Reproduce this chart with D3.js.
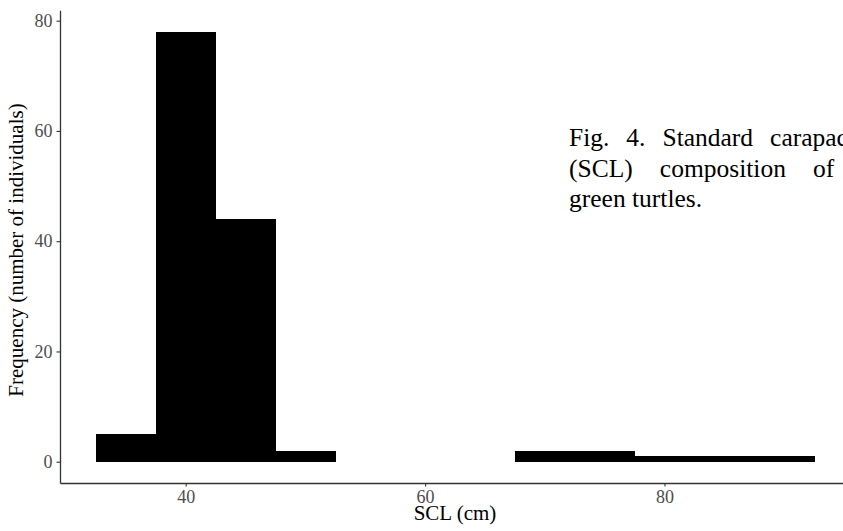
<!DOCTYPE html>
<html>
<head>
    <meta charset="utf-8">
    <title>SCL histogram</title>
    <script src="https://cdn.jsdelivr.net/npm/d3@7"></script>
    <style>
        body { margin: 0; background: #fff; }
        svg { display: block; }
    </style>
</head>
<body>
    <svg width="843" height="531"></svg>

    <script>
        // histogram bins (centre of each 5 cm bin) and counts
        var binCenters = [35, 40, 45, 50, 55, 60, 65, 70, 75, 80, 85, 90];
        var counts = [5, 78, 44, 2, 0, 0, 0, 2, 2, 1, 1, 1];
        var binWidth = 5;
        var xTicks = [40, 60, 80];
        var yTicks = [0, 20, 40, 60, 80];
        var captionLines = [
            "Fig. 4. Standard carapace length",
            "(SCL) composition of the",
            "green turtles."
        ];

        var svg = d3.select("svg");
        var serif = "'Liberation Serif', 'Times New Roman', serif";

        // panel: ggplot default expansion of 5%
        var x = d3.scaleLinear().domain([29.5, 95.5]).range([60, 850]);
        var y = d3.scaleLinear().domain([-3.86, 81.9]).range([483, 10.2]);

        var data = binCenters.map(function (c, i) {
            return { x0: c - binWidth / 2, x1: c + binWidth / 2, n: counts[i] };
        });

        // bars
        svg.append("g")
            .attr("shape-rendering", "crispEdges")
            .selectAll("rect")
            .data(data.filter(function (d) { return d.n > 0; }))
            .enter()
            .append("rect")
            .attr("x", function (d) { return x(d.x0); })
            .attr("width", function (d) { return x(d.x1) - x(d.x0) + 0.5; })
            .attr("y", function (d) { return y(d.n); })
            .attr("height", function (d) { return y(0) - y(d.n); })
            .attr("fill", "#000");

        // axes
        var xAxis = svg.append("g")
            .attr("transform", "translate(0," + 483 + ")")
            .call(d3.axisBottom(x).tickValues(xTicks).tickSize(3.5).tickPadding(4).tickSizeOuter(0));
        var yAxis = svg.append("g")
            .attr("transform", "translate(" + 60 + ",0)")
            .call(d3.axisLeft(y).tickValues(yTicks).tickSize(3.5).tickPadding(4).tickSizeOuter(0));

        [xAxis, yAxis].forEach(function (ax) {
            ax.select(".domain").attr("stroke", "#333").attr("stroke-width", 1.3);
            ax.selectAll(".tick line").attr("stroke", "#333").attr("stroke-width", 1.1);
            ax.selectAll(".tick text")
                .attr("fill", "#4d4d4d")
                .style("font-family", serif)
                .style("font-size", "18px");
        });

        // axis titles
        svg.append("text")
            .attr("x", 455)
            .attr("y", 520)
            .attr("text-anchor", "middle")
            .style("font-family", serif)
            .style("font-size", "21px")
            .text("SCL (cm)");

        svg.append("text")
            .attr("transform", "translate(23,250) rotate(-90)")
            .attr("text-anchor", "middle")
            .style("font-family", serif)
            .style("font-size", "21px")
            .text("Frequency (number of individuals)");

        // justified caption on the right (runs past the page edge)
        var wordSpacing = [10.6, 20.7, 0];
        svg.append("g")
            .selectAll("text")
            .data(captionLines)
            .enter()
            .append("text")
            .attr("x", 569)
            .attr("y", function (d, i) { return 146 + i * 30.7; })
            .style("font-family", serif)
            .style("font-size", "25.5px")
            .style("word-spacing", function (d, i) { return wordSpacing[i] + "px"; })
            .text(function (d) { return d; });
    </script>
</body>
</html>
